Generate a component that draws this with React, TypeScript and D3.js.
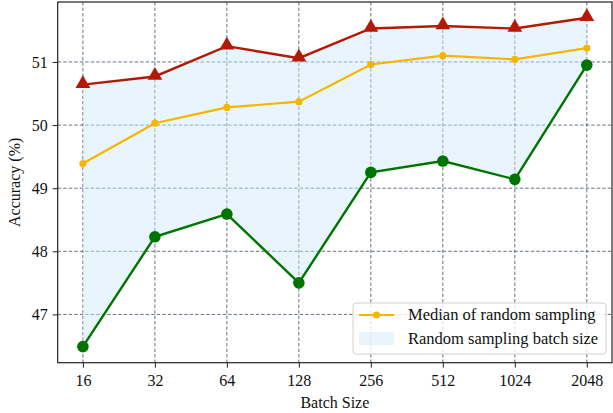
import React, { useRef, useEffect } from 'react';
import * as d3 from 'd3';

const batchSizes = ['16', '32', '64', '128', '256', '512', '1024', '2048'];
const maxAcc = [50.64, 50.77, 51.25, 51.06, 51.53, 51.57, 51.53, 51.70];
const medianAcc = [49.39, 50.03, 50.28, 50.37, 50.96, 51.10, 51.04, 51.22];
const minAcc = [46.49, 48.23, 48.59, 47.50, 49.25, 49.43, 49.14, 50.95];
const yTicks = [47, 48, 49, 50, 51];

const FONT = 'Liberation Serif, Times New Roman, DejaVu Serif, serif';

const App = () => {
  const svgRef = useRef<SVGSVGElement>(null);

  useEffect(() => {
    const svg = d3.select(svgRef.current);
    svg.selectAll('*').remove();

    const left = 57.7;
    const right = 612;
    const top = 2;
    const bottom = 362.7;
    const step = (right - left) / 7.7;

    const x = d3
      .scalePoint<string>()
      .domain(batchSizes)
      .range([left + step * 0.35, right - step * 0.35]);
    const y = d3.scaleLinear().domain([46.235, 51.95]).range([bottom, top]);

    const idx = d3.range(batchSizes.length);
    const gridColor = '#34495e';

    // grid
    const grid = svg.append('g');
    grid
      .selectAll('line.v')
      .data(batchSizes)
      .enter()
      .append('line')
      .attr('x1', (d) => x(d)!)
      .attr('x2', (d) => x(d)!)
      .attr('y1', top)
      .attr('y2', bottom)
      .attr('stroke', gridColor)
      .attr('stroke-opacity', 0.85)
      .attr('stroke-width', 0.9)
      .attr('stroke-dasharray', '3.5,2');
    grid
      .selectAll('line.h')
      .data(yTicks)
      .enter()
      .append('line')
      .attr('x1', left)
      .attr('x2', right)
      .attr('y1', (d) => y(d))
      .attr('y2', (d) => y(d))
      .attr('stroke', gridColor)
      .attr('stroke-opacity', 0.85)
      .attr('stroke-width', 0.9)
      .attr('stroke-dasharray', '3.5,2');

    // band between min and max
    const area = d3
      .area<number>()
      .x((i) => x(batchSizes[i])!)
      .y0((i) => y(minAcc[i]))
      .y1((i) => y(maxAcc[i]));
    svg
      .append('path')
      .datum(idx)
      .attr('d', area)
      .attr('fill', '#cfe8fb')
      .attr('fill-opacity', 0.45);

    const line = (vals: number[]) =>
      d3
        .line<number>()
        .x((i) => x(batchSizes[i])!)
        .y((i) => y(vals[i]))(idx);

    // median
    svg
      .append('path')
      .attr('d', line(medianAcc))
      .attr('fill', 'none')
      .attr('stroke', '#f7b500')
      .attr('stroke-width', 2.2);
    svg
      .append('g')
      .selectAll('circle')
      .data(idx)
      .enter()
      .append('circle')
      .attr('cx', (i) => x(batchSizes[i])!)
      .attr('cy', (i) => y(medianAcc[i]))
      .attr('r', 3.6)
      .attr('fill', '#f7b500');

    // max
    svg
      .append('path')
      .attr('d', line(maxAcc))
      .attr('fill', 'none')
      .attr('stroke', '#b31a06')
      .attr('stroke-width', 2.4);
    const tri = d3.symbol().type(d3.symbolTriangle).size(95);
    svg
      .append('g')
      .selectAll('path')
      .data(idx)
      .enter()
      .append('path')
      .attr('d', tri)
      .attr('transform', (i) => `translate(${x(batchSizes[i])},${y(maxAcc[i]) - 1})`)
      .attr('fill', '#b31a06');

    // min
    svg
      .append('path')
      .attr('d', line(minAcc))
      .attr('fill', 'none')
      .attr('stroke', '#007400')
      .attr('stroke-width', 2.4);
    svg
      .append('g')
      .selectAll('circle')
      .data(idx)
      .enter()
      .append('circle')
      .attr('cx', (i) => x(batchSizes[i])!)
      .attr('cy', (i) => y(minAcc[i]))
      .attr('r', 5.8)
      .attr('fill', '#007400');

    // frame
    svg
      .append('rect')
      .attr('x', left)
      .attr('y', top)
      .attr('width', right - left)
      .attr('height', bottom - top)
      .attr('fill', 'none')
      .attr('stroke', '#222')
      .attr('stroke-width', 1.2);

    // axes
    const xAxis = svg
      .append('g')
      .attr('transform', `translate(0,${bottom})`)
      .call(d3.axisBottom(x).tickSize(5).tickPadding(7));
    const yAxis = svg
      .append('g')
      .attr('transform', `translate(${left},0)`)
      .call(d3.axisLeft(y).tickValues(yTicks).tickFormat(d3.format('d')).tickSize(5).tickPadding(5));
    [xAxis, yAxis].forEach((a) => {
      a.attr('font-family', FONT).attr('font-size', 16);
      a.select('.domain').remove();
      a.selectAll('line').attr('stroke', '#222').attr('stroke-width', 1);
      a.selectAll('text').attr('fill', '#111');
    });

    svg
      .append('text')
      .attr('x', (left + right) / 2)
      .attr('y', 408)
      .attr('text-anchor', 'middle')
      .attr('font-family', FONT)
      .attr('font-size', 16)
      .attr('fill', '#111')
      .text('Batch Size');

    svg
      .append('text')
      .attr('transform', `translate(20,${(top + bottom) / 2}) rotate(-90)`)
      .attr('text-anchor', 'middle')
      .attr('font-family', FONT)
      .attr('font-size', 16)
      .attr('fill', '#111')
      .text('Accuracy (%)');

    // legend
    const legend = svg.append('g').attr('transform', 'translate(353,303)');
    legend
      .append('rect')
      .attr('width', 253)
      .attr('height', 51)
      .attr('rx', 3)
      .attr('fill', 'white')
      .attr('fill-opacity', 0.8)
      .attr('stroke', '#d0d0d0');
    legend
      .append('line')
      .attr('x1', 6)
      .attr('x2', 41)
      .attr('y1', 12)
      .attr('y2', 12)
      .attr('stroke', '#f7b500')
      .attr('stroke-width', 2.2);
    legend
      .append('circle')
      .attr('cx', 23.5)
      .attr('cy', 12)
      .attr('r', 3.6)
      .attr('fill', '#f7b500');
    legend
      .append('rect')
      .attr('x', 6)
      .attr('y', 29)
      .attr('width', 35)
      .attr('height', 13)
      .attr('fill', '#cfe8fb')
      .attr('fill-opacity', 0.45);
    const labels = ['Median of random sampling', 'Random sampling batch size'];
    legend
      .selectAll('text')
      .data(labels)
      .enter()
      .append('text')
      .attr('x', 55)
      .attr('y', (d, i) => 17 + i * 24)
      .attr('font-family', FONT)
      .attr('font-size', 16.5)
      .attr('fill', '#111')
      .text((d) => d);
  }, []);

  return (
    <svg
      ref={svgRef}
      width={613}
      height={413}
      style={{ position: 'absolute', left: 0, top: 0, background: 'white' }}
    ></svg>
  );
};

export default App;
